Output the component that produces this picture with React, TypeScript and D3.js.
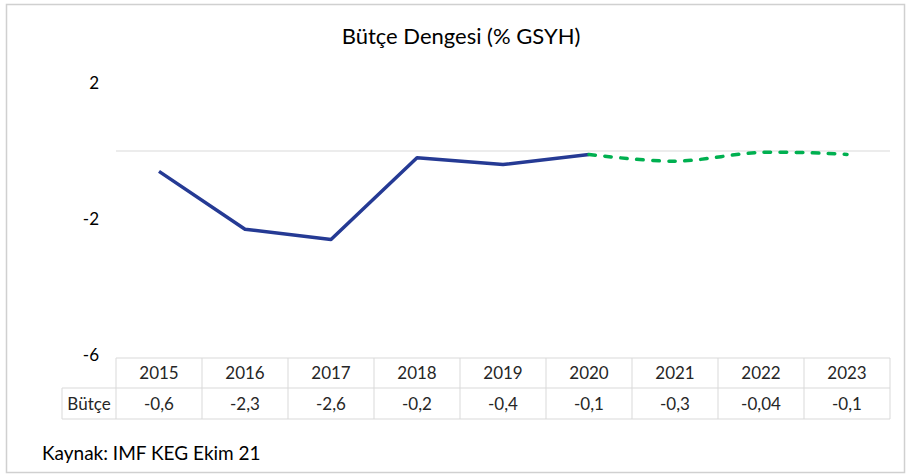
import React, { useEffect } from "react";
import * as d3 from "d3";

// Bütçe dengesi, % GSYH (IMF KEG Ekim 21)
const years = ["2015", "2016", "2017", "2018", "2019", "2020", "2021", "2022", "2023"];
const actualYears = ["2015", "2016", "2017", "2018", "2019", "2020"];
const actualValues = [-0.6, -2.3, -2.6, -0.2, -0.4, -0.1];
const forecastYears = ["2020", "2021", "2022", "2023"];
const forecastValues = [-0.1, -0.3, -0.04, -0.1];
const tableValues = [-0.6, -2.3, -2.6, -0.2, -0.4, -0.1, -0.3, -0.04, -0.1];
const yTicks = [2, -2, -6];

const W = 906;
const H = 475;
const FONT = "Lato, 'Liberation Sans', sans-serif";

function App() {
  useEffect(() => {
    document.body.style.margin = "0";
  }, []);

  const x = d3.scaleBand<string>().domain(years).range([116, 890]).padding(0);
  const y = d3.scaleLinear().domain([-6, 2]).range([355, 83]);
  const cx = (yr: string) => (x(yr) ?? 0) + x.bandwidth() / 2;

  const actualLine = d3
    .line<number>()
    .x((_, i) => cx(actualYears[i]))
    .y((d) => y(d));
  const forecastLine = d3
    .line<number>()
    .x((_, i) => cx(forecastYears[i]))
    .y((d) => y(d))
    .curve(d3.curveCatmullRom.alpha(0.5));

  const fmt = (v: number) => String(v).replace(".", ",");

  const rowTop = 358;
  const rowMid = 388;
  const rowBot = 419;
  const tableLeft = 62;
  const grid = "#d9d9d9";
  const text = "#262626";

  return (
    <svg width={W} height={H} style={{ display: "block", fontFamily: FONT }}>
      <rect x={0} y={0} width={W} height={H} fill="#fff" />
      <rect x={6.5} y={4.5} width={898} height={468} fill="none" stroke="#d0d0d0" strokeWidth={1.5} />

      <text x={461} y={44} textAnchor="middle" fontSize={22} fill="#000">
        Bütçe Dengesi (% GSYH)
      </text>

      {/* y axis labels */}
      {yTicks.map((t) => (
        <text key={t} x={99} y={y(t)} dy="0.36em" textAnchor="end" fontSize={17} fill="#000">
          {t}
        </text>
      ))}

      {/* zero line */}
      <line x1={116} x2={890} y1={y(0)} y2={y(0)} stroke={grid} strokeWidth={1} />

      {/* data table */}
      <g stroke={grid} strokeWidth={1} fill="none">
        <line x1={116} x2={890} y1={rowTop} y2={rowTop} />
        <line x1={tableLeft} x2={890} y1={rowMid} y2={rowMid} />
        <line x1={tableLeft} x2={890} y1={rowBot} y2={rowBot} />
        <line x1={tableLeft} x2={tableLeft} y1={rowMid} y2={rowBot} />
        {years.map((yr) => (
          <line key={yr} x1={x(yr)} x2={x(yr)} y1={rowTop} y2={rowBot} />
        ))}
        <line x1={890} x2={890} y1={rowTop} y2={rowBot} />
      </g>
      {years.map((yr, i) => (
        <g key={yr} fontSize={17} fill={text} textAnchor="middle">
          <text x={cx(yr)} y={(rowTop + rowMid) / 2} dy="0.36em">
            {yr}
          </text>
          <text x={cx(yr)} y={(rowMid + rowBot) / 2} dy="0.36em">
            {fmt(tableValues[i])}
          </text>
        </g>
      ))}
      <text x={(tableLeft + 116) / 2} y={(rowMid + rowBot) / 2} dy="0.36em" textAnchor="middle" fontSize={17} fill={text}>
        Bütçe
      </text>

      {/* lines */}
      <path d={actualLine(actualValues) ?? ""} fill="none" stroke="#253a94" strokeWidth={3.5} strokeLinejoin="round" />
      <path
        d={forecastLine(forecastValues) ?? ""}
        fill="none"
        stroke="#00b050"
        strokeWidth={3.5}
        strokeDasharray="6.5 9.5"
        strokeLinecap="round"
      />

      <text x={42} y={460} fontSize={19} fill="#000">
        Kaynak: IMF KEG Ekim 21
      </text>
    </svg>
  );
}

export default App;
